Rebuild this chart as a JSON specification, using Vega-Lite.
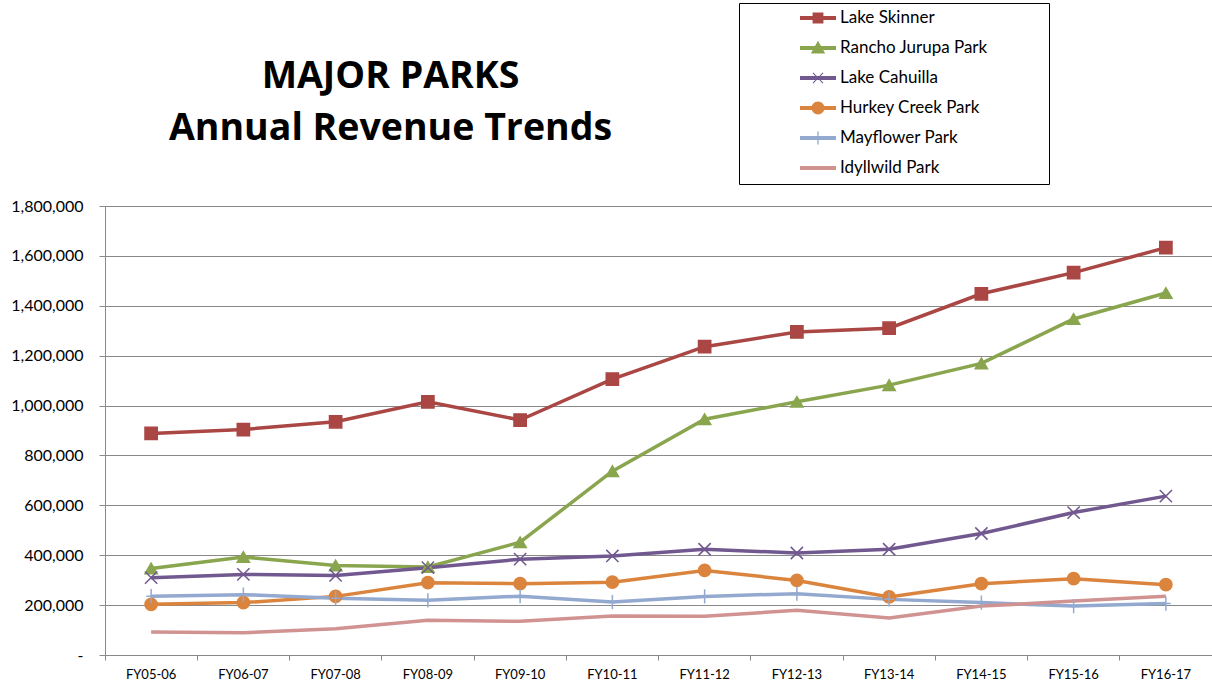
{
  "$schema": "https://vega.github.io/schema/vega-lite/v6.json",
  "width": 1107,
  "height": 449,
  "autosize": {"type": "none"},
  "padding": {"left": 105, "top": 206, "right": 0, "bottom": 30},
  "background": "#ffffff",
  "title": {
    "text": ["MAJOR PARKS", "Annual Revenue Trends"],
    "font": "Open Sans",
    "fontSize": 37.5,
    "fontWeight": "bold",
    "color": "#000000",
    "lineHeight": 52,
    "anchor": "middle",
    "frame": "group",
    "dx": -268,
    "offset": 0,
    "dy": 145
  },
  "data": {
    "values": [
      {"fy": "FY05-06", "park": "Lake Skinner", "value": 888000},
      {"fy": "FY06-07", "park": "Lake Skinner", "value": 904000},
      {"fy": "FY07-08", "park": "Lake Skinner", "value": 935000},
      {"fy": "FY08-09", "park": "Lake Skinner", "value": 1015000},
      {"fy": "FY09-10", "park": "Lake Skinner", "value": 942000},
      {"fy": "FY10-11", "park": "Lake Skinner", "value": 1106000},
      {"fy": "FY11-12", "park": "Lake Skinner", "value": 1236000},
      {"fy": "FY12-13", "park": "Lake Skinner", "value": 1295000},
      {"fy": "FY13-14", "park": "Lake Skinner", "value": 1310000},
      {"fy": "FY14-15", "park": "Lake Skinner", "value": 1448000},
      {"fy": "FY15-16", "park": "Lake Skinner", "value": 1533000},
      {"fy": "FY16-17", "park": "Lake Skinner", "value": 1633000},
      {"fy": "FY05-06", "park": "Rancho Jurupa Park", "value": 347000},
      {"fy": "FY06-07", "park": "Rancho Jurupa Park", "value": 393000},
      {"fy": "FY07-08", "park": "Rancho Jurupa Park", "value": 359000},
      {"fy": "FY08-09", "park": "Rancho Jurupa Park", "value": 353000},
      {"fy": "FY09-10", "park": "Rancho Jurupa Park", "value": 452000},
      {"fy": "FY10-11", "park": "Rancho Jurupa Park", "value": 737000},
      {"fy": "FY11-12", "park": "Rancho Jurupa Park", "value": 945000},
      {"fy": "FY12-13", "park": "Rancho Jurupa Park", "value": 1015000},
      {"fy": "FY13-14", "park": "Rancho Jurupa Park", "value": 1082000},
      {"fy": "FY14-15", "park": "Rancho Jurupa Park", "value": 1169000},
      {"fy": "FY15-16", "park": "Rancho Jurupa Park", "value": 1347000},
      {"fy": "FY16-17", "park": "Rancho Jurupa Park", "value": 1451000},
      {"fy": "FY05-06", "park": "Lake Cahuilla", "value": 310000},
      {"fy": "FY06-07", "park": "Lake Cahuilla", "value": 323000},
      {"fy": "FY07-08", "park": "Lake Cahuilla", "value": 319000},
      {"fy": "FY08-09", "park": "Lake Cahuilla", "value": 350000},
      {"fy": "FY09-10", "park": "Lake Cahuilla", "value": 384000},
      {"fy": "FY10-11", "park": "Lake Cahuilla", "value": 397000},
      {"fy": "FY11-12", "park": "Lake Cahuilla", "value": 424000},
      {"fy": "FY12-13", "park": "Lake Cahuilla", "value": 409000},
      {"fy": "FY13-14", "park": "Lake Cahuilla", "value": 424000},
      {"fy": "FY14-15", "park": "Lake Cahuilla", "value": 487000},
      {"fy": "FY15-16", "park": "Lake Cahuilla", "value": 571000},
      {"fy": "FY16-17", "park": "Lake Cahuilla", "value": 637000},
      {"fy": "FY05-06", "park": "Hurkey Creek Park", "value": 203000},
      {"fy": "FY06-07", "park": "Hurkey Creek Park", "value": 210000},
      {"fy": "FY07-08", "park": "Hurkey Creek Park", "value": 235000},
      {"fy": "FY08-09", "park": "Hurkey Creek Park", "value": 290000},
      {"fy": "FY09-10", "park": "Hurkey Creek Park", "value": 286000},
      {"fy": "FY10-11", "park": "Hurkey Creek Park", "value": 292000},
      {"fy": "FY11-12", "park": "Hurkey Creek Park", "value": 339000},
      {"fy": "FY12-13", "park": "Hurkey Creek Park", "value": 299000},
      {"fy": "FY13-14", "park": "Hurkey Creek Park", "value": 233000},
      {"fy": "FY14-15", "park": "Hurkey Creek Park", "value": 286000},
      {"fy": "FY15-16", "park": "Hurkey Creek Park", "value": 306000},
      {"fy": "FY16-17", "park": "Hurkey Creek Park", "value": 282000},
      {"fy": "FY05-06", "park": "Mayflower Park", "value": 236000},
      {"fy": "FY06-07", "park": "Mayflower Park", "value": 242000},
      {"fy": "FY07-08", "park": "Mayflower Park", "value": 228000},
      {"fy": "FY08-09", "park": "Mayflower Park", "value": 219000},
      {"fy": "FY09-10", "park": "Mayflower Park", "value": 236000},
      {"fy": "FY10-11", "park": "Mayflower Park", "value": 212000},
      {"fy": "FY11-12", "park": "Mayflower Park", "value": 235000},
      {"fy": "FY12-13", "park": "Mayflower Park", "value": 246000},
      {"fy": "FY13-14", "park": "Mayflower Park", "value": 223000},
      {"fy": "FY14-15", "park": "Mayflower Park", "value": 210000},
      {"fy": "FY15-16", "park": "Mayflower Park", "value": 196000},
      {"fy": "FY16-17", "park": "Mayflower Park", "value": 206000},
      {"fy": "FY05-06", "park": "Idyllwild Park", "value": 92000},
      {"fy": "FY06-07", "park": "Idyllwild Park", "value": 89000},
      {"fy": "FY07-08", "park": "Idyllwild Park", "value": 105000},
      {"fy": "FY08-09", "park": "Idyllwild Park", "value": 139000},
      {"fy": "FY09-10", "park": "Idyllwild Park", "value": 135000},
      {"fy": "FY10-11", "park": "Idyllwild Park", "value": 156000},
      {"fy": "FY11-12", "park": "Idyllwild Park", "value": 155000},
      {"fy": "FY12-13", "park": "Idyllwild Park", "value": 179000},
      {"fy": "FY13-14", "park": "Idyllwild Park", "value": 148000},
      {"fy": "FY14-15", "park": "Idyllwild Park", "value": 196000},
      {"fy": "FY15-16", "park": "Idyllwild Park", "value": 216000},
      {"fy": "FY16-17", "park": "Idyllwild Park", "value": 236000}
    ]
  },
  "encoding": {
    "x": {
      "field": "fy",
      "type": "ordinal",
      "bandPosition": 0.5,
      "scale": {"type": "band", "paddingInner": 0, "paddingOuter": 0},
      "axis": {
        "title": null,
        "labelAngle": 0,
        "labelFont": "Lato",
        "labelFontSize": 13,
        "labelColor": "#000000",
        "labelPadding": 8,
        "bandPosition": 1,
        "tickExtra": true,
        "tickSize": 5,
        "tickColor": "#898989",
        "domainColor": "#898989",
        "grid": false
      }
    },
    "y": {
      "field": "value",
      "type": "quantitative",
      "scale": {"domain": [0, 1800000], "nice": false},
      "axis": {
        "title": null,
        "values": [0, 200000, 400000, 600000, 800000, 1000000, 1200000, 1400000, 1600000, 1800000],
        "labelExpr": "datum.value === 0 ? '-\u00a0\u00a0\u00a0' : format(datum.value, ',')",
        "labelFont": "Lato",
        "labelFontSize": 16,
        "labelColor": "#000000",
        "labelPadding": 16,
        "tickSize": 6,
        "tickColor": "#898989",
        "domainColor": "#898989",
        "grid": true,
        "gridColor": "#898989",
        "gridWidth": 1
      }
    }
  },
  "layer": [
    {
      "mark": {"type": "line", "strokeWidth": 3.5},
      "encoding": {
        "color": {
          "field": "park",
          "type": "nominal",
          "scale": {
            "domain": ["Lake Skinner", "Rancho Jurupa Park", "Lake Cahuilla", "Hurkey Creek Park", "Mayflower Park", "Idyllwild Park"],
            "range": ["#AA4643", "#89A54E", "#71588F", "#DB843D", "#93A9CF", "#D19392"]
          },
          "legend": {
            "title": null,
            "orient": "none",
            "legendX": 634,
            "legendY": -203,
            "direction": "vertical",
            "padding": 3,
            "strokeColor": "#000000",
            "fillColor": "#ffffff",
            "symbolSize": 576,
            "symbolOffset": 64,
            "labelFont": "Lato",
            "labelFontSize": 17,
            "labelColor": "#000000",
            "labelOffset": 10,
            "labelLimit": 400,
            "rowPadding": 10,
            "encode": {
              "symbols": {
                "update": {
                  "shape": {"signal": "datum.value === 'Lake Skinner' ? 'M-1.5,-0.165H1.5V0.165H-1.5ZM-0.45,-0.45H0.45V0.45H-0.45ZM19,0' : datum.value === 'Rancho Jurupa Park' ? 'M-1.5,-0.165H1.5V0.165H-1.5ZM0,-0.6L0.6,0.45L-0.6,0.45ZM19,0' : datum.value === 'Lake Cahuilla' ? 'M-1.5,-0.165H1.5V0.165H-1.5ZM-0.45,-0.39L-0.39,-0.45L0.45,0.39L0.39,0.45ZM0.39,-0.45L0.45,-0.39L-0.39,0.45L-0.45,0.39ZM19,0' : datum.value === 'Hurkey Creek Park' ? 'M-1.5,-0.165H1.5V0.165H-1.5ZM-0.54,0A0.54,0.54,0,1,1,0.54,0A0.54,0.54,0,1,1,-0.54,0ZM19,0' : datum.value === 'Mayflower Park' ? 'M-1.5,-0.165H1.5V0.165H-1.5ZM-0.055,-0.54H0.055V0.54H-0.055ZM19,0' : 'M-1.5,-0.165H1.5V0.165H-1.5ZM19,0M0,1.05'"},
                  "fill": {"scale": "color", "field": "value"},
                  "stroke": {"value": "transparent"},
                  "strokeWidth": {"value": 0},
                  "opacity": {"value": 1}
                }
              }
            }
          }
        }
      }
    },
    {
      "transform": [
        {"filter": {"field": "park", "oneOf": ["Lake Skinner", "Rancho Jurupa Park", "Lake Cahuilla", "Hurkey Creek Park", "Mayflower Park"]}}
      ],
      "mark": {"type": "point", "filled": true, "size": 150, "strokeWidth": 1.5, "opacity": 1},
      "encoding": {
        "color": {"field": "park", "type": "nominal", "legend": null},
        "stroke": {
          "field": "park",
          "type": "nominal",
          "scale": {
            "domain": ["Lake Skinner", "Rancho Jurupa Park", "Lake Cahuilla", "Hurkey Creek Park", "Mayflower Park"],
            "range": ["#AA4643", "#89A54E", "#71588F", "#DB843D", "#93A9CF"]
          },
          "legend": null
        },
        "shape": {
          "field": "park",
          "type": "nominal",
          "scale": {
            "domain": ["Lake Skinner", "Rancho Jurupa Park", "Lake Cahuilla", "Hurkey Creek Park", "Mayflower Park"],
            "range": ["square", "triangle-up", "M-1,-1L1,1M1,-1L-1,1", "circle", "M0,-1.15V1.15M-0.8,0H0.8"]
          },
          "legend": null
        }
      }
    }
  ],
  "config": {
    "view": {"stroke": null}
  }
}
